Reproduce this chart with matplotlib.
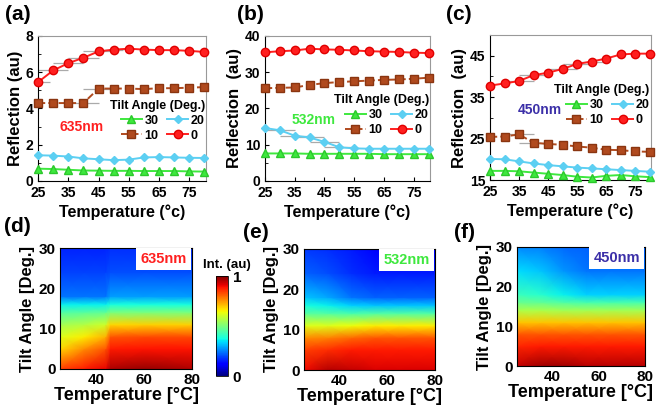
import numpy as np
import matplotlib
matplotlib.use("Agg")
import matplotlib.pyplot as plt

plt.rcParams['font.family'] = ['Liberation Sans', 'DejaVu Sans']
plt.rcParams['font.weight'] = 'bold'
plt.rcParams['axes.labelweight'] = 'bold'

# temperatures of the line plots
temps = [25, 30, 35, 40, 45, 50, 55, 60, 65, 70, 75, 80]
angle_names = ['30', '20', '10', '0']

# (a) 635nm
a_30 = [0.68, 0.66, 0.62, 0.58, 0.57, 0.56, 0.56, 0.55, 0.55, 0.55, 0.53, 0.52]
a_20 = [1.42, 1.40, 1.35, 1.25, 1.20, 1.15, 1.18, 1.30, 1.32, 1.30, 1.28, 1.27]
a_10 = [4.30, 4.30, 4.30, 4.30, 5.10, 5.10, 5.10, 5.07, 5.12, 5.12, 5.15, 5.18]
a_0 = [5.45, 6.10, 6.50, 6.80, 7.15, 7.25, 7.30, 7.25, 7.22, 7.22, 7.18, 7.12]
# (b) 532nm
b_30 = [7.6, 7.6, 7.6, 7.5, 7.5, 7.5, 7.5, 7.5, 7.4, 7.4, 7.4, 7.4]
b_20 = [14.6, 14.0, 12.5, 12.0, 10.8, 9.3, 9.0, 8.9, 8.9, 8.9, 8.9, 8.9]
b_10 = [25.6, 25.7, 25.8, 26.5, 27.0, 27.3, 27.5, 27.7, 27.9, 28.0, 28.2, 28.5]
b_0 = [35.5, 35.8, 36.0, 36.5, 36.3, 36.2, 36.0, 35.8, 35.7, 35.6, 35.4, 35.3]
# (c) 450nm
c_30 = [17.2, 17.2, 17.1, 16.8, 16.5, 16.2, 15.8, 15.6, 16.0, 16.2, 15.9, 15.7]
c_20 = [20.1, 20.0, 19.5, 19.0, 18.6, 18.3, 18.0, 17.8, 17.6, 17.4, 17.2, 17.0]
c_10 = [25.4, 25.5, 26.0, 24.0, 23.7, 23.5, 23.1, 22.8, 22.3, 22.2, 21.9, 21.8]
c_0 = [37.8, 38.3, 38.9, 40.3, 40.9, 41.8, 43.0, 43.6, 44.3, 45.3, 45.5, 45.5]

# horizontal error bars (deg C)
a_err0 = [4, 5, 5, 5, 5, 3, 0, 0, 0, 0, 0, 0]
a_err10 = [0, 0, 0, 5, 5, 0, 0, 0, 0, 0, 0, 0]
b_err20 = [0, 5, 5, 5, 5, 5, 0, 0, 0, 0, 0, 0]
c_err0 = [0, 0, 5, 5, 0, 5, 5, 5, 0, 0, 0, 0]
c_err10 = [0, 0, 5, 5, 0, 0, 0, 0, 0, 0, 0, 0]
no_err = [0] * 12

# heatmap grids (normalised intensity)
hm_angles = [0, 5, 8, 11, 14, 16, 18, 24, 30]
d_temps = [25, 35, 44, 46, 60, 80]
d_int = [[0.84, 0.88, 0.91, 0.96, 0.98, 0.96],
         [0.68, 0.76, 0.82, 0.88, 0.89, 0.89],
         [0.62, 0.66, 0.72, 0.82, 0.83, 0.83],
         [0.55, 0.57, 0.60, 0.68, 0.69, 0.69],
         [0.45, 0.46, 0.47, 0.50, 0.50, 0.50],
         [0.36, 0.36, 0.36, 0.38, 0.38, 0.38],
         [0.24, 0.24, 0.24, 0.28, 0.28, 0.28],
         [0.19, 0.19, 0.19, 0.20, 0.20, 0.20],
         [0.16, 0.16, 0.16, 0.17, 0.17, 0.17]]
ef_temps = [25, 35, 45, 55, 65, 80]
e_int = [[0.90, 0.95, 0.94, 0.92, 0.92, 0.92],
         [0.84, 0.86, 0.88, 0.88, 0.88, 0.88],
         [0.76, 0.77, 0.80, 0.82, 0.82, 0.82],
         [0.62, 0.62, 0.64, 0.66, 0.66, 0.66],
         [0.46, 0.45, 0.44, 0.45, 0.45, 0.45],
         [0.38, 0.36, 0.33, 0.32, 0.32, 0.32],
         [0.32, 0.29, 0.24, 0.22, 0.22, 0.22],
         [0.22, 0.20, 0.17, 0.15, 0.15, 0.15],
         [0.18, 0.17, 0.15, 0.12, 0.12, 0.12]]
f_int = [[0.94, 0.97, 0.97, 0.95, 0.95, 0.95],
         [0.87, 0.88, 0.88, 0.88, 0.88, 0.88],
         [0.82, 0.82, 0.82, 0.82, 0.82, 0.82],
         [0.70, 0.70, 0.70, 0.70, 0.70, 0.70],
         [0.56, 0.56, 0.55, 0.55, 0.55, 0.55],
         [0.48, 0.47, 0.45, 0.44, 0.44, 0.44],
         [0.42, 0.40, 0.36, 0.33, 0.33, 0.33],
         [0.34, 0.32, 0.27, 0.24, 0.24, 0.24],
         [0.26, 0.25, 0.23, 0.22, 0.22, 0.22]]

W, H = 657, 405
fig = plt.figure(figsize=(W / 100, H / 100), dpi=100)


def box(l, t, r, b):
    return [l / W, 1 - b / H, (r - l) / W, (b - t) / H]


styles = [dict(color='#3ee83e', marker='^', ls='-', mec='#2cc82c', ms=5.5),
          dict(color='#5ccff2', marker='D', ls='-', mec='#5ccff2', ms=4),
          dict(color='#b04a1e', marker='s', ls='--', mec='#8a3510', ms=5.5),
          dict(color='#ff1f1f', marker='o', ls='-', mec='#e00000', ms=6)]


def line_panel(pos, series, errs, ylim, major, minor, wl, wl_color, leg_y, wl_xy, label, lab_xy, ylab):
    ax = fig.add_axes(box(*pos))
    handles = []
    for vals, err, st, nm in zip(series, errs, styles, angle_names):
        ax.errorbar(temps, vals, xerr=err, fmt='none', ecolor='#aaaaaa', elinewidth=0.9, capsize=0, zorder=1)
        h, = ax.plot(temps, vals, lw=1.4, label=nm, zorder=3, clip_on=False, **st)
        handles.append(h)
    ax.set_xlim(25, 80.5)
    ax.set_ylim(*ylim)
    ax.set_xticks(range(25, 81, 10))
    ax.set_yticks(major)
    ax.set_yticks(minor, minor=True)
    ax.tick_params(direction='in', labelsize=10, length=3, width=0.8)
    ax.tick_params(which='minor', direction='in', length=2)
    for s in ['top', 'right']:
        ax.spines[s].set_color('#999999')
    ax.set_xlabel('Temperature (°c)', fontsize=11.5, labelpad=3)
    ax.set_ylabel(ylab, fontsize=12, labelpad=2)
    leg = ax.legend([handles[0], handles[2], handles[1], handles[3]],
                    ['30', '10', '20', '0'], ncol=2, frameon=False,
                    title='Tilt Angle (Deg.)', fontsize=9, title_fontsize=9,
                    loc='upper right', bbox_to_anchor=(1.0, leg_y), handlelength=1.7,
                    handletextpad=0.2, columnspacing=0.7, labelspacing=0.25,
                    borderaxespad=0, borderpad=0.1)
    leg.get_title().set_fontweight('bold')
    leg._legend_box.align = 'right'
    ax.text(wl_xy[0], wl_xy[1], wl, color=wl_color, fontsize=10, transform=ax.transAxes, va='center')
    fig.text(lab_xy[0] / W, 1 - lab_xy[1] / H, label, fontsize=15, va='center')
    return ax


line_panel((38, 36, 206, 181), [a_30, a_20, a_10, a_0], [no_err, no_err, a_err10, a_err0],
           (0, 8), range(0, 9, 2), range(0, 9, 1), '635nm', '#ff2020',
           0.57, (0.13, 0.37), '(a)', (5, 15), 'Reflection (au)')
line_panel((265, 36, 430, 181), [b_30, b_20, b_10, b_0], [no_err, b_err20, no_err, no_err],
           (0, 40), range(0, 41, 10), range(0, 41, 5), '532nm', '#3ee83e',
           0.61, (0.16, 0.42), '(b)', (237, 15), 'Reflection  (au)')
line_panel((490, 35, 651, 180), [c_30, c_20, c_10, c_0], [no_err, no_err, c_err10, c_err0],
           (15, 50), range(15, 50, 10), range(15, 51, 5), '450nm', '#3b2fa8',
           0.67, (0.17, 0.48), '(c)', (446, 15), 'Reflection  (au)')


def heat_panel(pos, t, z, wl, wl_color, label, lab_xy):
    ax = fig.add_axes(box(*pos))
    X, Y = np.meshgrid(t, hm_angles)
    m = ax.pcolormesh(X, Y, np.array(z), cmap='jet', vmin=0, vmax=1, shading='gouraud')
    ax.set_xlim(25, 80)
    ax.set_ylim(0, 30)
    ax.set_xticks([40, 60, 80])
    ax.set_yticks([0, 10, 20, 30])
    ax.tick_params(labelsize=11, length=0, pad=3)
    ax.set_xlabel('Temperature [°C]', fontsize=13, labelpad=0)
    ax.set_ylabel('Tilt Angle [Deg.]', fontsize=12, labelpad=3)
    ax.text(0.96, 0.91, wl, color=wl_color, fontsize=10.5, transform=ax.transAxes,
            ha='right', va='center',
            bbox=dict(boxstyle='square,pad=0.3', fc='white', ec='none'))
    fig.text(lab_xy[0] / W, 1 - lab_xy[1] / H, label, fontsize=15, va='center')
    return m


m = heat_panel((60, 248, 192, 369), d_temps, d_int, '635nm', '#ff2020', '(d)', (4, 226))
heat_panel((304, 249, 435, 370), ef_temps, e_int, '532nm', '#3ee83e', '(e)', (243, 232))
heat_panel((517, 247, 645, 366), ef_temps, f_int, '450nm', '#3b2fa8', '(f)', (454, 232))

cax = fig.add_axes(box(216, 276, 228, 376))
cb = fig.colorbar(m, cax=cax, ticks=[0, 1])
cb.outline.set_linewidth(0.6)
cax.tick_params(labelsize=11, length=0)
fig.text(227 / W, 1 - 265 / H, 'Int. (au)', fontsize=9.5, ha='center', va='center')

fig.savefig('out.png', dpi=100)
